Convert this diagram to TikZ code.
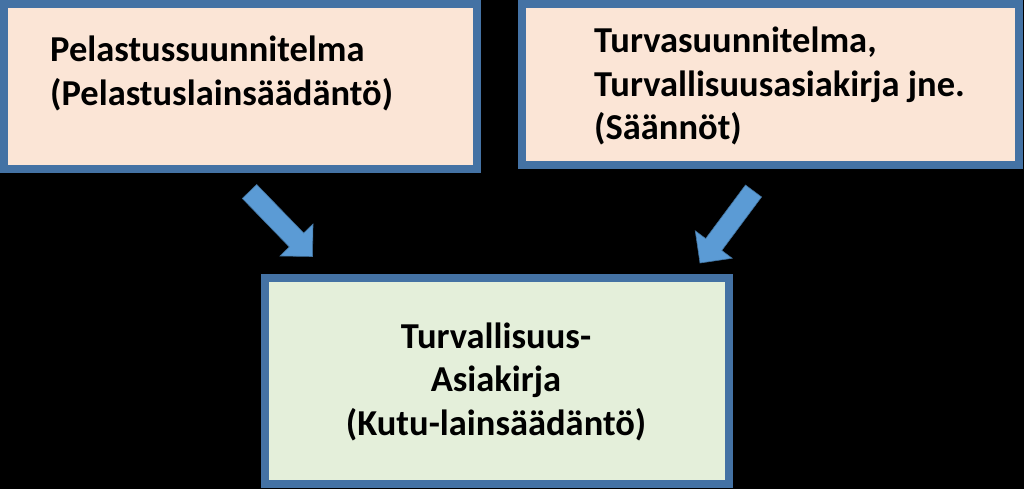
\documentclass[tikz,border=0pt]{standalone}
\usepackage{fontspec}
\setmainfont{Carlito}
\usetikzlibrary{calc}
\definecolor{boxborder}{HTML}{4472A4}
\definecolor{peach}{HTML}{FBE5D6}
\definecolor{palegreen}{HTML}{E4EFDA}
\definecolor{arrowfill}{HTML}{5B9BD5}
\definecolor{arrowline}{HTML}{41719C}
\tikzset{
  boxnode/.style={draw=boxborder, line width=8pt, inner sep=0pt},
  txt/.style={inner sep=0pt, font=\fontsize{36.5}{43.5}\selectfont\bfseries},
  blockarrow/.style={fill=arrowfill, draw=arrowline, line width=0.6pt, line join=miter}
}
\begin{document}
\begin{tikzpicture}[x=1pt,y=-1pt]
\useasboundingbox (0,0) rectangle (1024,489);
\fill[black] (0,0) rectangle (1024,489);
% boxes
\node[boxnode, fill=peach, minimum width=473pt, minimum height=165pt] (left) at (240.5,86.5) {};
\node[boxnode, fill=peach, minimum width=497.5pt, minimum height=161pt] (right) at (770.25,84.5) {};
\node[boxnode, fill=palegreen, minimum width=464pt, minimum height=206pt] (bottom) at (497,381) {};
% texts
\node[txt, anchor=base west] (lefttext) at (50,62)
  {\vtop{\baselineskip=44pt\hbox{Pelastussuunnitelma}\hbox{(Pelastuslainsäädäntö)}}};
\node[txt, anchor=base west] (righttext) at (594,53)
  {\vtop{\hbox{Turvasuunnitelma,}\hbox{Turvallisuusasiakirja jne.}\hbox{(Säännöt)}}};
\node[txt, anchor=base] (bottomtext) at (496,348)
  {\vtop{\halign{\hfil#\hfil\cr Turvallisuus-\cr Asiakirja\cr (Kutu-lainsäädäntö)\cr}}};
% arrows
\coordinate (la1) at (249.5,191.5);
\coordinate (la2) at (312.5,256.5);
\coordinate (lab) at ($(la2)!23pt!(la1)$);
\coordinate (ra1) at (753.5,191);
\coordinate (ra2) at (700,263);
\coordinate (rab) at ($(ra2)!23pt!(ra1)$);
\draw[blockarrow] ($(la1)!10pt!90:(la2)$) -- ($(lab)!10pt!90:(la2)$) -- ($(lab)!23pt!90:(la2)$)
  -- (la2) -- ($(lab)!23pt!-90:(la2)$) -- ($(lab)!10pt!-90:(la2)$) -- ($(la1)!10pt!-90:(la2)$) -- cycle;
\draw[blockarrow] ($(ra1)!10pt!90:(ra2)$) -- ($(rab)!10pt!90:(ra2)$) -- ($(rab)!23pt!90:(ra2)$)
  -- (ra2) -- ($(rab)!23pt!-90:(ra2)$) -- ($(rab)!10pt!-90:(ra2)$) -- ($(ra1)!10pt!-90:(ra2)$) -- cycle;
\end{tikzpicture}
\end{document}
